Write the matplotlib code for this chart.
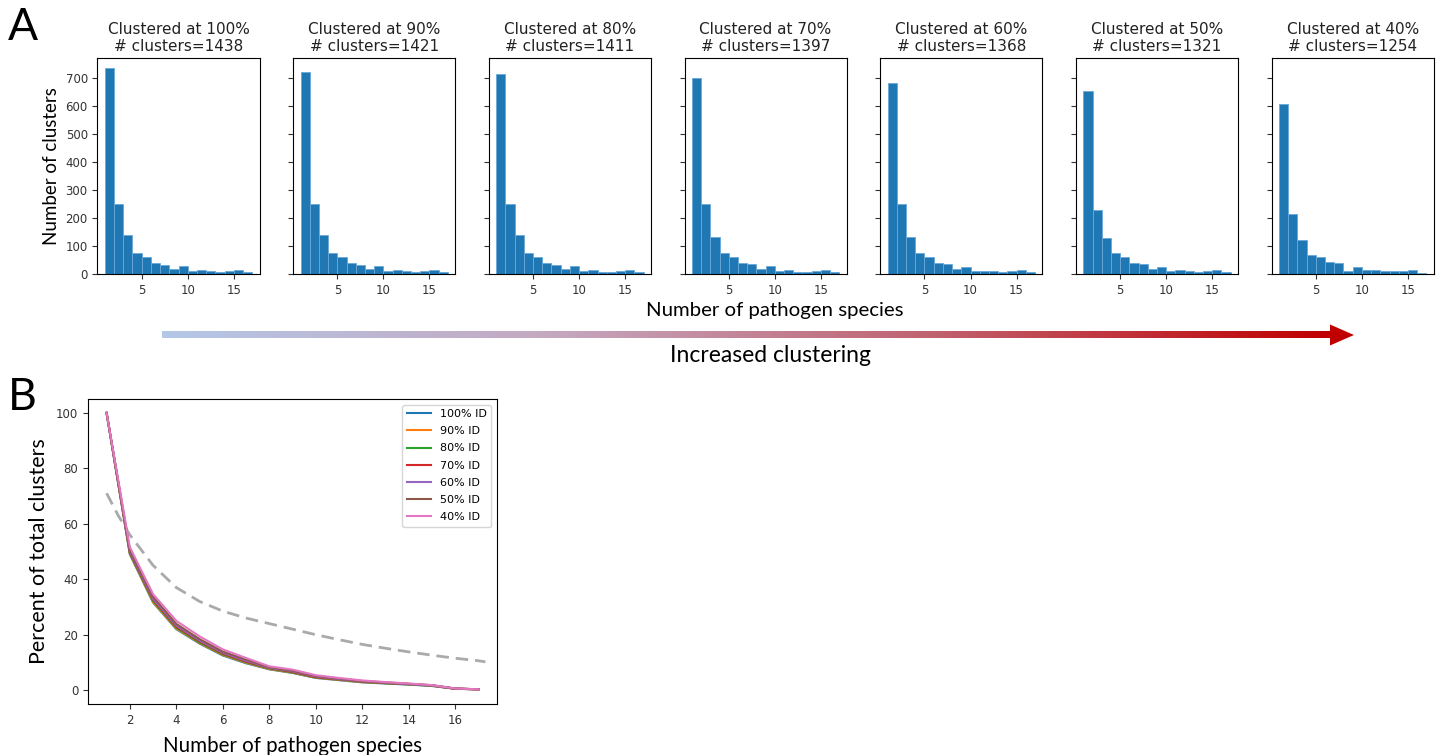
import numpy as np
import matplotlib
matplotlib.use("Agg")
import matplotlib.pyplot as plt
from matplotlib.colors import LinearSegmentedColormap
from matplotlib.patches import Polygon

#============================================================
# panel A: histogram counts, bins of width 1 from 1 to 17
bin_edges = list(range(1, 18))
id_levels = ["100%", "90%", "80%", "70%", "60%", "50%", "40%"]
n_clusters = [1438, 1421, 1411, 1397, 1368, 1321, 1254]
counts_100 = [734, 250, 139, 74, 62, 41, 31, 19, 27, 10, 14, 10, 6, 10, 14, 6]
counts_90 = [722, 250, 139, 75, 62, 41, 31, 19, 27, 12, 14, 10, 6, 10, 14, 6]
counts_80 = [714, 250, 139, 75, 62, 41, 31, 19, 27, 10, 16, 6, 6, 10, 16, 6]
counts_70 = [700, 250, 133, 75, 62, 41, 36, 19, 27, 10, 16, 6, 6, 10, 16, 6]
counts_60 = [680, 250, 133, 75, 62, 41, 36, 19, 24, 10, 10, 10, 6, 10, 16, 6]
counts_50 = [654, 230, 130, 75, 62, 41, 36, 19, 24, 10, 16, 10, 6, 10, 16, 6]
counts_40 = [608, 214, 120, 69, 59, 42, 38, 11, 24, 13, 13, 10, 10, 10, 14, 5]
all_counts = [counts_100, counts_90, counts_80, counts_70, counts_60, counts_50, counts_40]

# panel B: percent of clusters with >= x species
species_x = list(range(1, 18))
pct_100 = [100, 49.0, 31.6, 22.0, 16.8, 12.5, 9.7, 7.5, 6.2, 4.4, 3.6, 2.8, 2.4, 2.0, 1.5, 0.5, 0.3]
pct_90 = [100, 49.2, 31.8, 22.2, 17.0, 12.7, 9.9, 7.6, 6.3, 4.5, 3.7, 2.9, 2.5, 2.1, 1.6, 0.5, 0.3]
pct_80 = [100, 49.4, 32.2, 22.5, 17.2, 12.9, 10.1, 7.8, 6.4, 4.6, 3.8, 3.0, 2.5, 2.1, 1.6, 0.5, 0.3]
pct_70 = [100, 49.8, 32.6, 22.9, 17.6, 13.2, 10.3, 8.0, 6.6, 4.7, 3.9, 3.1, 2.6, 2.2, 1.7, 0.5, 0.3]
pct_60 = [100, 50.1, 33.0, 23.3, 17.9, 13.5, 10.6, 8.1, 6.8, 4.9, 4.0, 3.2, 2.7, 2.2, 1.7, 0.6, 0.3]
pct_50 = [100, 50.6, 33.7, 23.9, 18.4, 13.9, 11.0, 8.3, 7.0, 5.1, 4.2, 3.3, 2.8, 2.3, 1.8, 0.6, 0.3]
pct_40 = [100, 51.6, 34.6, 25.0, 19.4, 14.7, 11.6, 8.6, 7.4, 5.4, 4.4, 3.5, 2.9, 2.4, 1.8, 0.6, 0.3]
all_pct = [pct_100, pct_90, pct_80, pct_70, pct_60, pct_50, pct_40]

dash_x = [1, 1.5, 2, 3, 4, 5, 6, 7, 8, 9, 10, 11, 12, 13, 14, 15, 16, 17, 17.3]
dash_y = [71, 63, 56, 45, 37, 32, 28.5, 26, 24, 22, 20, 18.2, 16.5, 15.1, 13.8, 12.6, 11.5, 10.6, 10.2]
#============================================================

W, H = 1439, 755
fig = plt.figure(figsize=(W / 100, H / 100), dpi=100)
label_font = "Lato"

def px_axes(left, top, width, height):
    return fig.add_axes([left / W, 1 - (top + height) / H, width / W, height / H])

hist_axes = []
for i, counts in enumerate(all_counts):
    ax = px_axes(97.5 + 195.7 * i, 58, 162, 216)
    if hist_axes:
        ax.sharey(hist_axes[0])
    ax.hist(bin_edges[:-1], bins=bin_edges, weights=counts,
            color="#1f77b4", edgecolor="#6aa9d8", linewidth=0.6)
    ax.set_title("Clustered at %s\n# clusters=%d" % (id_levels[i], n_clusters[i]),
                 fontsize=11, color="#222222", pad=5)
    ax.set_xticks([5, 10, 15])
    ax.tick_params(labelsize=8.5, length=3.5, colors="#333333")
    if i > 0:
        ax.tick_params(labelleft=False)
    hist_axes.append(ax)
hist_axes[0].set_ylabel("Number of clusters", fontsize=13.5, family=label_font, labelpad=4)

fig.text(775 / W, 1 - 311 / H, "Number of pathogen species", fontsize=14.7,
         family=label_font, ha="center", va="center")
fig.text(770 / W, 1 - 356 / H, "Increased clustering", fontsize=16.5,
         family=label_font, ha="center", va="center")
fig.text(8 / W, 1 - 28 / H, "A", fontsize=32, family=label_font, va="center")
fig.text(8 / W, 1 - 397 / H, "B", fontsize=32, family=label_font, va="center")

# gradient arrow
arr_ax = px_axes(160, 320, 1200, 30)
arr_ax.set_xlim(160, 1360)
arr_ax.set_ylim(350, 320)
arr_ax.axis("off")
cmap = LinearSegmentedColormap.from_list("arr", ["#b4c7e7", "#c5a8c0", "#c0606d", "#c00000"])
grad = np.linspace(0, 1, 400).reshape(1, -1)
arr_ax.imshow(grad, cmap=cmap, aspect="auto", extent=(162, 1332, 338.5, 331.5))
arr_ax.add_patch(Polygon([(1330, 324.5), (1354, 335), (1330, 345.5)], closed=True,
                         color="#c00000", lw=0))

# panel B
axb = px_axes(88, 399, 409, 305)
pal = ["#1f77b4", "#ff7f0e", "#2ca02c", "#d62728", "#9467bd", "#8c564b", "#e377c2"]
axb.plot(dash_x, dash_y, color="#aaaaaa", lw=2, dashes=(4.5, 2.5))
for i, pct in enumerate(all_pct):
    axb.plot(species_x, pct, color=pal[i], lw=1.5, label=id_levels[i] + " ID")
axb.set_xlim(0.2, 17.8)
axb.set_ylim(-5, 105)
axb.set_xticks(range(2, 17, 2))
axb.set_yticks(range(0, 101, 20))
axb.tick_params(labelsize=8.5, length=3.5, colors="#333333")
axb.legend(loc="upper right", fontsize=8, handlelength=2.2, labelspacing=0.65)
axb.set_ylabel("Percent of total clusters", fontsize=15.4, family=label_font, labelpad=5)
axb.set_xlabel("Number of pathogen species", fontsize=14.8, family=label_font, labelpad=7)

fig.savefig("out.png", dpi=100)
